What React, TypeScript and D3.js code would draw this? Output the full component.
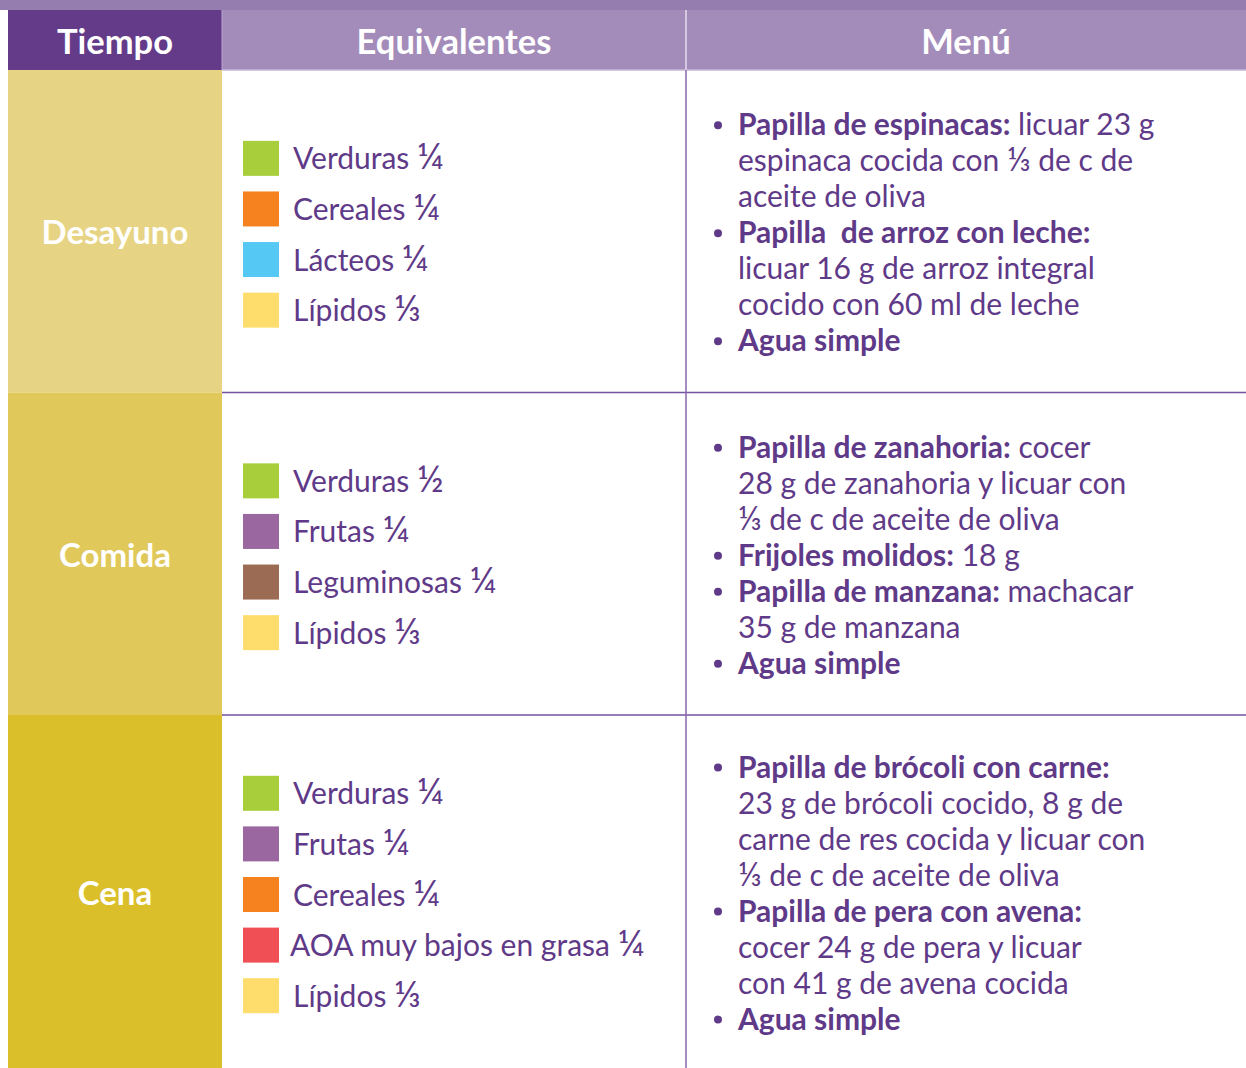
import React from 'react';
import * as d3 from 'd3';

// table content
const tiempos = ['Desayuno', 'Comida', 'Cena'];
const encabezados = ['Tiempo', 'Equivalentes', 'Menú'];

const colorGrupo: Record<string, string> = {
  Verduras: '#a8cf3b',
  Cereales: '#f6821f',
  Lácteos: '#55c8f3',
  Lípidos: '#fedd6c',
  Frutas: '#9a67a0',
  Leguminosas: '#9b6b53',
  'AOA muy bajos en grasa': '#ef4f55',
};

const equivDesayuno = [['Verduras', '¼'], ['Cereales', '¼'], ['Lácteos', '¼'], ['Lípidos', '⅓']];
const equivComida = [['Verduras', '½'], ['Frutas', '¼'], ['Leguminosas', '¼'], ['Lípidos', '⅓']];
const equivCena = [['Verduras', '¼'], ['Frutas', '¼'], ['Cereales', '¼'], ['AOA muy bajos en grasa', '¼'], ['Lípidos', '⅓']];

const menuDesayuno = [
  { titulo: 'Papilla de espinacas:', texto: ['licuar 23 g', 'espinaca cocida con ⅓ de c de', 'aceite de oliva'] },
  { titulo: 'Papilla  de arroz con leche:', texto: ['', 'licuar 16 g de arroz integral', 'cocido con 60 ml de leche'] },
  { titulo: 'Agua simple', texto: [''] },
];
const menuComida = [
  { titulo: 'Papilla de zanahoria:', texto: ['cocer', '28 g de zanahoria y licuar con', '⅓ de c de aceite de oliva'] },
  { titulo: 'Frijoles molidos:', texto: ['18 g'] },
  { titulo: 'Papilla de manzana:', texto: ['machacar', '35 g de manzana'] },
  { titulo: 'Agua simple', texto: [''] },
];
const menuCena = [
  { titulo: 'Papilla de brócoli con carne:', texto: ['', '23 g de brócoli cocido, 8 g de', 'carne de res cocida y licuar con', '⅓ de c de aceite de oliva'] },
  { titulo: 'Papilla de pera con avena:', texto: ['', 'cocer 24 g de pera y licuar', 'con 41 g de avena cocida'] },
  { titulo: 'Agua simple', texto: [''] },
];

const equivalentes = [equivDesayuno, equivComida, equivCena];
const menus = [menuDesayuno, menuComida, menuCena];

const W = 1246;
const H = 1068;
const FONT = 'Lato, "Open Sans", sans-serif';
const PURPLE = '#5f3a88';
const rowColors = ['#e6d484', '#e0c95a', '#dabf2a'];
const rowHeights = [322.5, 322.5, 353];
const headTop = 10;
const headBottom = 70;

const colX = d3.scaleOrdinal<string, number>().domain(encabezados).range([8, 222, 686]);
const colEnd = d3.scaleOrdinal<string, number>().domain(encabezados).range([222, 686, W]);

// splits a string so that fraction glyphs can be drawn a bit larger
const withFractions = (s: string, scale: string) =>
  s.split(/([¼½⅓])/).filter(p => p !== '').map((p, i) =>
    /[¼½⅓]/.test(p)
      ? <tspan key={i} fontSize={scale}>{p}</tspan>
      : <tspan key={i}>{p}</tspan>
  );

const App = () => {
  const rowTop = d3.cumsum([0, ...rowHeights]).map(v => v + headBottom);

  return (
    <div style={{ position: 'absolute', left: 0, top: 0 }}>
      <svg width={W} height={H} style={{ display: 'block', fontFamily: FONT }}>
        <rect x={0} y={0} width={W} height={H} fill="#fff" />
        <rect x={0} y={0} width={W} height={headTop} fill="#967db0" />

        {encabezados.map((h, i) => (
          <g key={h}>
            <rect x={colX(h)} y={headTop} width={colEnd(h) - colX(h)} height={headBottom - headTop}
              fill={i === 0 ? '#633b89' : '#a38cba'} />
            <text x={(colX(h) + colEnd(h)) / 2} y={headTop + 44} textAnchor="middle"
              fontSize={34.5} fontWeight={700} fill="#fff">{h}</text>
          </g>
        ))}
        <line x1={222} x2={W} y1={headBottom} y2={headBottom} stroke="#c9b9d9" strokeWidth={1.5} />
        <line x1={686} x2={686} y1={headTop} y2={headBottom} stroke="#e6dced" strokeWidth={1.5} />
        <line x1={222} x2={222} y1={headTop} y2={headBottom} stroke="#b9a6cc" strokeWidth={1} />

        {tiempos.map((t, r) => {
          const top = rowTop[r];
          const bottom = rowTop[r + 1];
          const mid = (top + bottom) / 2;
          const eq = equivalentes[r];
          const yEq = d3.scaleLinear().domain([0, eq.length - 1])
            .range([mid + 3 - (eq.length - 1) * 25.3, mid + 3 + (eq.length - 1) * 25.3]);

          const lines: { bold: string; rest: string; bullet: boolean }[] = [];
          menus[r].forEach(item => {
            item.texto.forEach((tx, k) => {
              lines.push({ bold: k === 0 ? item.titulo : '', rest: tx, bullet: k === 0 });
            });
          });
          const yMenu = d3.scaleLinear().domain([0, lines.length - 1])
            .range([mid + 1 - (lines.length - 1) * 18, mid + 1 + (lines.length - 1) * 18]);

          return (
            <g key={t}>
              <rect x={8} y={top} width={214} height={bottom - top} fill={rowColors[r]} />
              <text x={115} y={mid + 13} textAnchor="middle" fontSize={33} fontWeight={700} fill="#fff">{t}</text>

              {eq.map(([g, p], i) => (
                <g key={g}>
                  <rect x={243} y={yEq(i) - 17.5} width={36} height={35} fill={colorGrupo[g]} />
                  <text x={g.startsWith('AOA') ? 290 : 293} y={yEq(i) + 11} fontSize={30} fill={PURPLE}>
                    {withFractions(`${g} ${p}`, '1.22em')}
                  </text>
                </g>
              ))}

              {lines.map((ln, i) => (
                <g key={i}>
                  {ln.bullet && <circle cx={718} cy={yMenu(i) + 1} r={4} fill={PURPLE} />}
                  <text x={738} y={yMenu(i) + 11} fontSize={30} fill={PURPLE} style={{ whiteSpace: 'pre' }}>
                    {ln.bold && <tspan fontWeight={700}>{ln.bold}</tspan>}
                    {ln.bold && ln.rest ? ' ' : ''}
                    {withFractions(ln.rest, '1.08em')}
                  </text>
                </g>
              ))}

              {r < tiempos.length - 1 && (
                <line x1={222} x2={W} y1={bottom} y2={bottom} stroke="#7552a0" strokeWidth={1.5} />
              )}
            </g>
          );
        })}

        <line x1={686} x2={686} y1={headBottom} y2={H} stroke="#8767ad" strokeWidth={1.5} />
      </svg>
    </div>
  );
};

export default App;
